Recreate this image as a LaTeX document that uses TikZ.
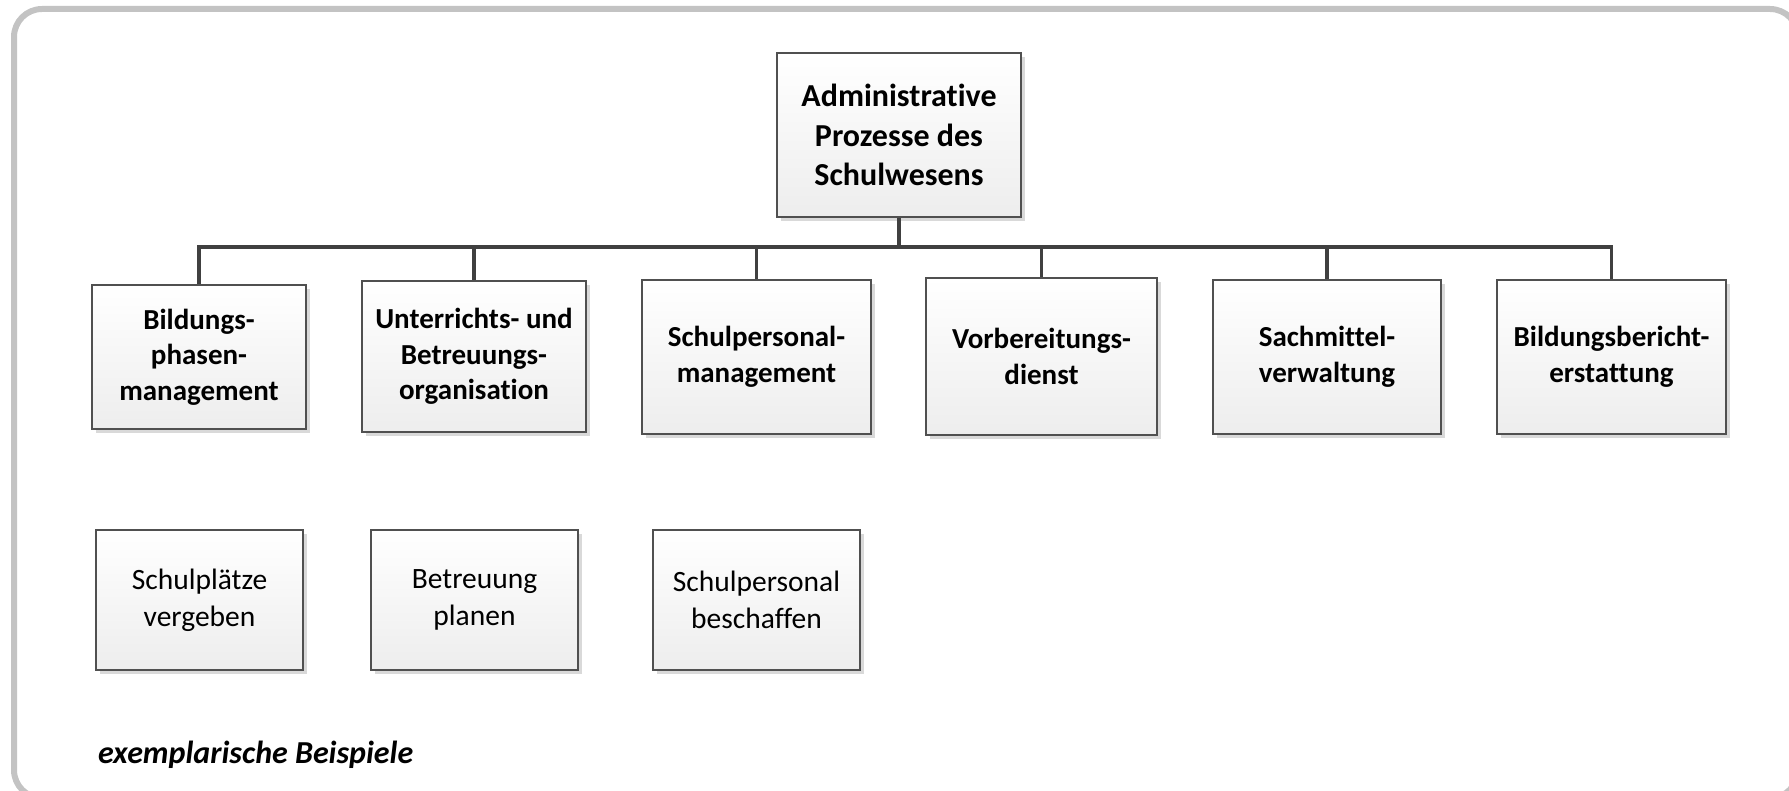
\documentclass[tikz,border=0pt]{standalone}
\usepackage{fontspec}
\setmainfont{Carlito}[Ligatures=NoCommon]
\usetikzlibrary{shadows}
\definecolor{framegray}{HTML}{C3C3C3}
\definecolor{boxline}{HTML}{505050}
\definecolor{conn}{HTML}{404040}
\definecolor{shad}{HTML}{D9D9D9}
\tikzset{
  procbox/.style={draw=boxline, line width=1.6pt, top color=white, bottom color=black!7,
    align=center, inner sep=2pt,
    general shadow={fill=shad, shadow xshift=4pt, shadow yshift=-4pt}},
  rootbox/.style={procbox, font=\fontsize{32}{39.5}\selectfont\bfseries},
  headbox/.style={procbox, font=\fontsize{29}{35.5}\selectfont\bfseries},
  leafbox/.style={procbox, minimum width=207pt, minimum height=140pt, font=\fontsize{29.5}{37}\selectfont},
  conline/.style={draw=conn, line width=3.2pt},
}
\begin{document}
\begin{tikzpicture}[x=1pt,y=-1pt]
\useasboundingbox (0,0) rectangle (1789,791);
\draw[framegray, line width=6pt, rounded corners=28pt] (14,9) rectangle (1798,798);

\node[rootbox, minimum width=244pt, minimum height=164pt] (top) at (899,135) {Administrative\\Prozesse des\\Schulwesens};

\node[headbox, minimum width=214pt, minimum height=144pt] (b1) at (199,357) {Bildungs-\\phasen-\\management};
\node[headbox, minimum width=224pt, minimum height=151pt] (b2) at (474,356.5) {Unterrichts- und\\Betreuungs-\\organisation};
\node[headbox, minimum width=229pt, minimum height=154pt] (b3) at (756.5,357) {Schulpersonal-\\management};
\node[headbox, minimum width=231pt, minimum height=157pt] (b4) at (1041.5,356.5) {Vorbereitungs-\\dienst};
\node[headbox, minimum width=228pt, minimum height=154pt] (b5) at (1327,357) {Sachmittel-\\verwaltung};
\node[headbox, minimum width=229pt, minimum height=154pt] (b6) at (1611.5,357) {Bildungsbericht-\\erstattung};

\node[leafbox] (l1) at (199.5,600) {Schulplätze\\vergeben};
\node[leafbox] (l2) at (474.5,600) {Betreuung\\planen};
\node[leafbox] (l3) at (756.5,600) {Schulpersonal\\beschaffen};

\coordinate (bus) at (899,247);
\draw[conline] (top.south) -- (bus);
\foreach \c in {b1,b2,b3,b4,b5,b6}{
  \draw[conline] (bus) -| (\c.north);
}

\node[anchor=base west, inner sep=0pt, font=\fontsize{32}{39}\selectfont\bfseries\itshape] (note) at (98,763) {exemplarische Beispiele};
\end{tikzpicture}
\end{document}
